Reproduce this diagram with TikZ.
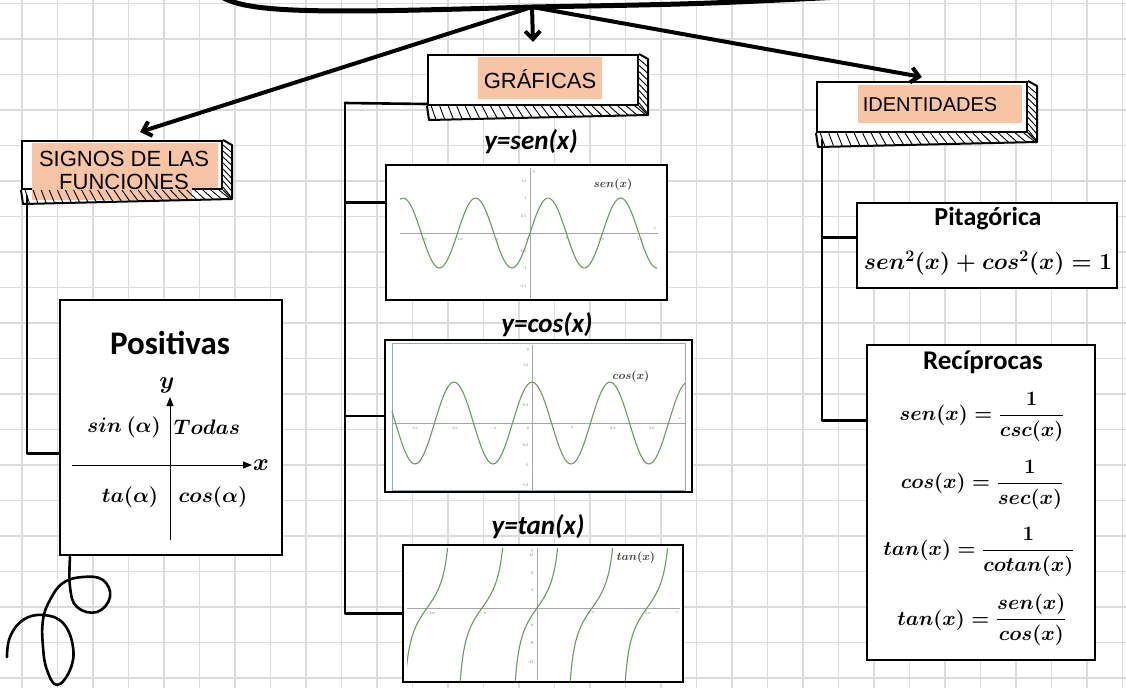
\documentclass[tikz,border=0pt]{standalone}
\usepackage{fix-cm}
\usepackage{amsmath}
\usepackage{fontspec}
\setmainfont{Carlito}
\newfontfamily\headfont{Liberation Sans}
\usetikzlibrary{positioning, arrows.meta, calc}
\definecolor{peach}{HTML}{F7C4A5}
\definecolor{gridgray}{HTML}{DCDCDC}
\definecolor{plotgreen}{HTML}{6E9A62}
\definecolor{framegray}{HTML}{9AA6B8}

\begin{document}
\begin{tikzpicture}[x=1pt, y=-1pt,
    gridline/.style={draw=gridgray, line width=1.1pt},
    ink/.style={line width=2.6pt, line cap=round, line join=round},
    bigarrow/.style={line width=4pt, line cap=round, -{Straight Barb[length=8pt, width=15pt]}},
    plank/.style={draw, fill=white, line width=2pt, inner sep=0pt},
    hatch/.style={line width=0.9pt},
    headlbl/.style={font=\headfont\fontsize{22}{23}\selectfont, text=black, align=center},
    panel/.style={draw, fill=white, line width=2.4pt, inner sep=0pt},
    axisline/.style={draw=gray!70, line width=0.7pt},
    curve/.style={draw=plotgreen, line width=1.1pt},
    ticklbl/.style={font=\fontsize{4}{4}\selectfont, text=gray, inner sep=0.5pt},
    curvelbl/.style={font=\fontsize{11.5}{13}\selectfont\boldmath, text=black!75},
    plottitle/.style={font=\fontsize{27}{30}\selectfont\bfseries\itshape},
    boxhead/.style={font=\fontsize{27}{30}\selectfont\bfseries},
    eqn/.style={font=\fontsize{21}{25}\selectfont\boldmath}]

    % paper and grid
    \fill[white] (0,0) rectangle (1126,688);
    \useasboundingbox (0,0) rectangle (1126,688);
    \foreach \gx in {22,57.5,...,1126} \draw[gridline] (\gx,0) -- (\gx,688);
    \foreach \gy in {3.5,39,...,688} \draw[gridline] (0,\gy) -- (1126,\gy);

    % planks
    \node[plank, minimum width=200, minimum height=48] (sig) at (122,165) {};
    \node[plank, minimum width=210, minimum height=50] (graf) at (533,80) {};
    \node[plank, minimum width=210, minimum height=50] (ident) at (922,107) {};
    \foreach \p in {sig,graf,ident}{
        \coordinate (\p-c) at ($(\p.south east)+(9,9)$);
        \coordinate (\p-d) at ($(\p.south west)+(2,14)$);
        \coordinate (\p-e) at ($(\p.north east)+(9,5)$);
        \fill[white] (\p.south west) -- (\p.south east) -- (\p-c) -- (\p-d) -- cycle;
        \fill[white] (\p.north east) -- (\p-e) -- (\p-c) -- (\p.south east) -- cycle;
    }
    \fill[peach] (478,57) rectangle (602,99);
    \fill[peach] (32,143) rectangle (218,188);
    \fill[peach] (32,188) rectangle (192,200);
    \fill[peach] (858,85) rectangle (1022,123);
    \foreach \p in {sig,graf,ident}{
        \foreach \t in {0.02,0.06,...,0.99}
            \draw[hatch] ($(\p.south west)!\t!(\p.south east)$) -- ($(\p-d)!\t+0.012!(\p-c)$);
        \foreach \t in {0.1,0.22,...,0.95}
            \draw[hatch] ($(\p.north east)!\t!(\p.south east)$) -- ($(\p-e)!\t+0.04!(\p-c)$);
        \draw[line width=2pt, line join=round] (\p.south west) -- (\p-d) -- (\p-c) -- (\p-e) -- (\p.north east);
        \draw[line width=1.4pt] (\p.south east) -- (\p-c);
    }
    \node[headlbl] (graftxt) at (540,79) {GRÁFICAS};
    \node[headlbl] (sigtxt) at (124,170) {SIGNOS DE LAS\\FUNCIONES};
    \node[headlbl, font=\headfont\fontsize{20}{21}\selectfont] (identtxt) at (930,105) {IDENTIDADES};

    % top stroke and arrows
    \coordinate (hub) at (532,7);
    \draw[ink, line width=5pt] (222,-3) .. controls (250,14) and (330,13) .. (hub) .. controls (700,4) .. (840,-3);
    \draw[bigarrow] (hub) -- ([yshift=12pt]graf.north);
    \draw[bigarrow] (hub) -- ([xshift=18pt, yshift=8pt]sig.north);
    \draw[bigarrow] (hub) -- ([yshift=4pt]ident.north);

    % panels
    \node[panel, minimum width=222, minimum height=255] (pos) at (171,427.5) {};
    \node[panel, minimum width=281, minimum height=135] (sen) at (526.5,232.5) {};
    \node[panel, minimum width=307, minimum height=152] (cos) at (538.5,416) {};
    \node[panel, minimum width=280, minimum height=137] (tan) at (543,613.5) {};
    \node[panel, minimum width=260, minimum height=85] (pit) at (987,245.5) {};
    \node[panel, minimum width=228, minimum height=315] (rec) at (981,502.5) {};

    % tree lines
    \coordinate (sigtop) at (27,196);
    \draw[ink] (sigtop) |- ([yshift=-26pt]pos.west);
    \coordinate (gtrunk) at (345,103);
    \draw[ink] ([yshift=2pt]graf.south west) -- (gtrunk);
    \draw[ink] (gtrunk) |- ([yshift=30pt]sen.west);
    \draw[ink] (gtrunk) |- (cos.west);
    \draw[ink] (gtrunk) |- (tan.west);
    \coordinate (itrunk) at (822,140);
    \draw[ink] (itrunk) |- ([yshift=8pt]pit.west);
    \draw[ink] (itrunk) |- ([yshift=82pt]rec.west);

    % swirl
    \draw[ink] plot[smooth, tension=0.7] coordinates {(70,557) (70,587) (77,607) (97,612) (110,597) (103,580) (83,577) (63,583) (50,600) (43,620) (43,647) (47,670) (57,685) (70,670) (73,647) (63,623) (43,615) (23,620) (10,637) (7,657)};

    % signos
    \node[boxhead, font=\fontsize{33}{36}\selectfont\bfseries] (postitle) at (170,343) {Positivas};
    \coordinate (yfoot) at (170,540);
    \coordinate (ytip) at (170,397);
    \coordinate (xfoot) at (72,465);
    \coordinate (xtip) at (252,465);
    \draw[line width=1pt, -{Triangle[length=9pt, width=7pt]}] (yfoot) -- (ytip);
    \draw[line width=1pt, -{Triangle[length=9pt, width=7pt]}] (xfoot) -- (xtip);
    \node[font=\fontsize{24}{26}\selectfont\boldmath] (ylbl) at (167,385) {$y$};
    \node[font=\fontsize{24}{26}\selectfont\boldmath] (xlbl) at (261,465) {$x$};
    \node[eqn] (q2) at (124,427) {$sin\ (\alpha)$};
    \node[eqn] (q1) at (207,427) {$Todas$};
    \node[eqn] (q3) at (130,497) {$ta(\alpha)$};
    \node[eqn] (q4) at (213,497) {$cos(\alpha)$};

    % y = sen(x)
    \node[plottitle] (sentitle) at (531,142) {y=sen(x)};
    \draw[axisline] (400,233) -- (658,233);
    \draw[axisline] (530,168) -- (530,298);
    \draw[curve] plot[domain=400:657, samples=120] (\x, {233-35*sin((\x-530)*4.9655)});
    \node[curvelbl] (senlbl) at (613,185) {$sen(x)$};
    \foreach \yy/\t [count=\i] in {181/1.5, 198/1, 216/0.5, 251/-0.5, 268/-1, 286/-1.5}
        \node[ticklbl, anchor=east] (sy\i) at (527,\yy) {\t};
    \foreach \xx/\t [count=\i] in {422/-3\pi, 458/-2\pi, 495/-\pi, 527/0, 567/\pi, 602/2\pi, 640/3\pi}
        \node[ticklbl] (sx\i) at (\xx,239) {$\t$};
    \node[ticklbl] (sxl) at (655,229) {$x$};
    \node[ticklbl] (syl) at (534,172) {$y$};

    % y = cos(x)
    \node[plottitle] (costitle) at (547,325) {y=cos(x)};
    \draw[draw=framegray, line width=0.8pt] (392,343) rectangle (685,490);
    \draw[axisline] (392,423) -- (685,423);
    \draw[axisline] (532,345) -- (532,490);
    \draw[curve] plot[domain=392:685, samples=120] (\x, {423-41*cos((\x-532)*4.6154)});
    \node[curvelbl] (coslbl) at (631,377) {$cos(x)$};
    \foreach \yy/\t [count=\i] in {365/1.5, 405/0.5, 445/-0.5, 465/-1, 485/-1.5}
        \node[ticklbl, anchor=east] (cy\i) at (529,\yy) {\t};
    \foreach \xx/\t [count=\i] in {413/-3\pi, 453/-2\pi, 493/-\pi, 528/0, 572/\pi, 613/2\pi, 652/3\pi}
        \node[ticklbl] (cx\i) at (\xx,428) {$\t$};
    \node[ticklbl] (cxl) at (680,419) {$x$};
    \node[ticklbl] (cyl) at (528,350) {$y$};

    % y = tan(x)
    \node[plottitle] (tantitle) at (538,527) {y=tan(x)};
    \draw[axisline] (407,608) -- (680,608);
    \draw[axisline] (537,548) -- (537,680);
    \begin{scope}
        \clip (407,548) rectangle (680,680);
        \foreach \c in {427,482,537,592,647}{
            \pgfmathsetmacro\lo{\c-23.5}
            \pgfmathsetmacro\hi{\c+23.5}
            \draw[curve] plot[domain=\lo:\hi, samples=90] (\x, {608-25*tan((\x-\c)*3.2727)});
        }
    \end{scope}
    \node[curvelbl] (tanlbl) at (636,558) {$tan(x)$};
    \foreach \yy/\t [count=\i] in {555/12, 573/8, 590/4, 625/-4, 643/-8, 662/-12}
        \node[ticklbl, anchor=east] (ty\i) at (534,\yy) {\t};
    \foreach \xx/\t [count=\i] in {430/-2\pi, 483/-\pi, 593/\pi, 648/2\pi}
        \node[ticklbl] (tx\i) at (\xx,613) {$\t$};
    \node[ticklbl] (txl) at (677,613) {$x$};
    \node[ticklbl] (tyl) at (532,551) {$y$};

    % identidades
    \node[boxhead, font=\fontsize{26}{30}\selectfont\bfseries] (pittitle) at (988,219) {Pitagórica};
    \node[eqn, font=\fontsize{23}{27}\selectfont\boldmath] (pitform) at (988,263) {$sen^2(x)+cos^2(x)=1$};
    \node[boxhead] (rectitle) at (983,362) {Recíprocas};
    \node[eqn, font=\fontsize{20.5}{25}\selectfont\boldmath] (req1) at (982,417) {$sen(x)=\dfrac{1}{csc(x)}$};
    \node[eqn, font=\fontsize{20.5}{25}\selectfont\boldmath] (req2) at (982,485) {$cos(x)=\dfrac{1}{sec(x)}$};
    \node[eqn, font=\fontsize{20.5}{25}\selectfont\boldmath] (req3) at (979,552) {$tan(x)=\dfrac{1}{cotan(x)}$};
    \node[eqn, font=\fontsize{20.5}{25}\selectfont\boldmath] (req4) at (982,620) {$tan(x)=\dfrac{sen(x)}{cos(x)}$};
\end{tikzpicture}
\end{document}
